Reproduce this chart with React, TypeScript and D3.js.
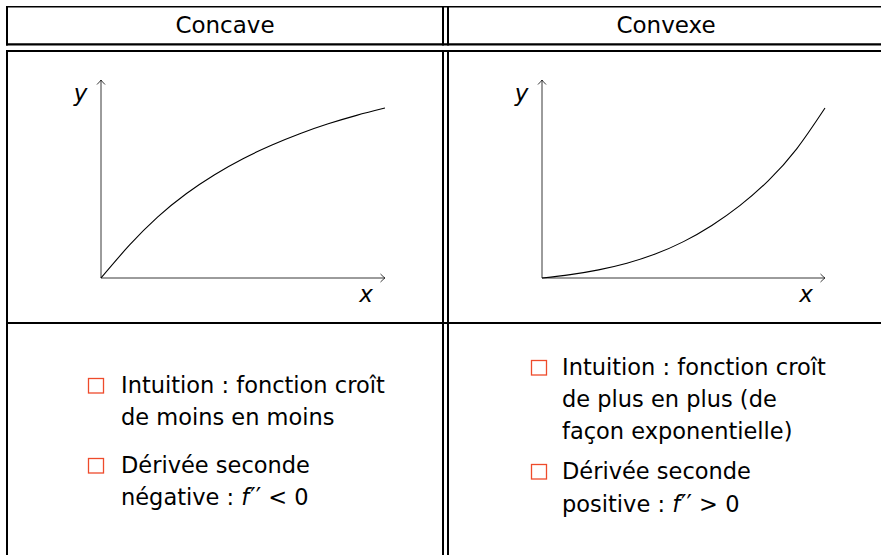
import React from "react";
import * as d3 from "d3";

// ---- data ----
const columns = ["Concave", "Convexe"];
const xValues = [0, 1, 2, 3, 4, 5, 6, 7, 8, 9, 10];
const concaveValues = [0, 1.93, 3.6, 4.96, 6.08, 7.02, 7.81, 8.49, 9.07, 9.57, 10];
const convexValues = [0, 0.2, 0.48, 0.87, 1.41, 2.14, 3.09, 4.27, 5.73, 7.6, 10];
const axisLabels = ["x", "y"];
const concaveNotes = [
  ["Intuition : fonction croît", "de moins en moins"],
  ["Dérivée seconde", "négative : |f|′′ < 0"],
];
const convexNotes = [
  ["Intuition : fonction croît", "de plus en plus (de", "façon exponentielle)"],
  ["Dérivée seconde", "positive : |f|′′ > 0"],
];

const W = 881;
const H = 555;
const FONT = "'DejaVu Sans', sans-serif";
const BULLET = "#EE4B2B";
const X_MAX = 10;
const Y_AXIS_MAX = 11.65;

function Arrow({ x, y, dir }: { x: number; y: number; dir: "right" | "up" }) {
  const d =
    dir === "right"
      ? `M${x - 4.5},${y - 4} Q${x - 1.5},${y - 1} ${x},${y} Q${x - 1.5},${y + 1} ${x - 4.5},${y + 4}`
      : `M${x - 4},${y + 4.5} Q${x - 1},${y + 1.5} ${x},${y} Q${x + 1},${y + 1.5} ${x + 4},${y + 4.5}`;
  return <path d={d} fill="none" stroke="#222" strokeWidth={0.9} />;
}

function Plot({ x0, x1, values }: { x0: number; x1: number; values: number[] }) {
  const xs = d3.scaleLinear().domain([0, X_MAX]).range([x0, x1]);
  const ys = d3.scaleLinear().domain([0, Y_AXIS_MAX]).range([278, 80]);
  const line = d3
    .line<number>()
    .x((_, i) => xs(xValues[i]))
    .y((v) => ys(v))
    .curve(d3.curveNatural);
  return (
    <g>
      <line x1={xs(0)} y1={ys(0)} x2={xs(X_MAX)} y2={ys(0)} stroke="#222" strokeWidth={0.9} />
      <line x1={xs(0)} y1={ys(0)} x2={xs(0)} y2={ys(Y_AXIS_MAX)} stroke="#222" strokeWidth={0.9} />
      <Arrow x={xs(X_MAX)} y={ys(0)} dir="right" />
      <Arrow x={xs(0)} y={ys(Y_AXIS_MAX)} dir="up" />
      <path d={line(values) || ""} fill="none" stroke="#000" strokeWidth={1.1} />
      <text x={xs(X_MAX) - 19} y={302} fontFamily={FONT} fontStyle="italic" fontSize={23} textAnchor="middle">
        {axisLabels[0]}
      </text>
      <text x={xs(0) - 20.5} y={101} fontFamily={FONT} fontStyle="italic" fontSize={23} textAnchor="middle">
        {axisLabels[1]}
      </text>
    </g>
  );
}

function Line({ text, x, y }: { text: string; x: number; y: number }) {
  const parts = text.split("|");
  return (
    <text x={x} y={y} fontFamily={FONT} fontSize={22.5} fill="#000">
      {parts.map((p, i) =>
        i % 2 === 1 ? (
          <tspan key={i} fontStyle="italic">
            {p}
          </tspan>
        ) : p.startsWith("′′") ? (
          <React.Fragment key={i}>
            <tspan dx={1} fontSize={24}>
              ′′
            </tspan>
            <tspan>{p.slice(2)}</tspan>
          </React.Fragment>
        ) : (
          <tspan key={i}>{p}</tspan>
        )
      )}
    </text>
  );
}

function Notes({
  notes,
  xBox,
  xText,
  baselines,
}: {
  notes: string[][];
  xBox: number;
  xText: number;
  baselines: number[][];
}) {
  return (
    <g>
      {notes.map((item, k) => (
        <g key={k}>
          <rect
            x={xBox}
            y={baselines[k][0] - 14.5}
            width={15}
            height={14.5}
            fill="none"
            stroke={BULLET}
            strokeWidth={1.3}
          />
          {item.map((ln, j) => (
            <Line key={j} text={ln} x={xText} y={baselines[k][j]} />
          ))}
        </g>
      ))}
    </g>
  );
}

export default function App() {
  const vSegs: [number, number][] = [
    [6, 45.5],
    [50, H],
  ];
  const vx = [7, 443, 448];
  return (
    <svg
      width={W}
      height={H}
      viewBox={`0 0 ${W} ${H}`}
      style={{ position: "absolute", left: 0, top: 0, background: "#fff" }}
    >
      <rect x={0} y={0} width={W} height={H} fill="#fff" />
      {/* table rules */}
      <line x1={6} x2={W} y1={6.7} y2={6.7} stroke="#000" strokeWidth={1.6} />
      <line x1={6} x2={W} y1={44.4} y2={44.4} stroke="#000" strokeWidth={2.4} />
      <line x1={6} x2={W} y1={51} y2={51} stroke="#000" strokeWidth={2.2} />
      <line x1={6} x2={W} y1={323} y2={323} stroke="#000" strokeWidth={2} />
      {vx.map((x) =>
        vSegs.map(([a, b], i) => (
          <line key={`${x}-${i}`} x1={x} x2={x} y1={a} y2={b} stroke="#000" strokeWidth={2} />
        ))
      )}
      {/* headers */}
      <text x={225} y={33} fontFamily={FONT} fontSize={23} textAnchor="middle" fill="#000">
        {columns[0]}
      </text>
      <text x={666} y={33} fontFamily={FONT} fontSize={23} textAnchor="middle" fill="#000">
        {columns[1]}
      </text>
      {/* plots */}
      <Plot x0={101} x1={385} values={concaveValues} />
      <Plot x0={542} x1={825} values={convexValues} />
      {/* notes */}
      <Notes
        notes={concaveNotes}
        xBox={88.5}
        xText={121}
        baselines={[
          [393, 424.5],
          [473, 505],
        ]}
      />
      <Notes
        notes={convexNotes}
        xBox={531.5}
        xText={562}
        baselines={[
          [375, 407, 439],
          [479, 511.5],
        ]}
      />
    </svg>
  );
}
